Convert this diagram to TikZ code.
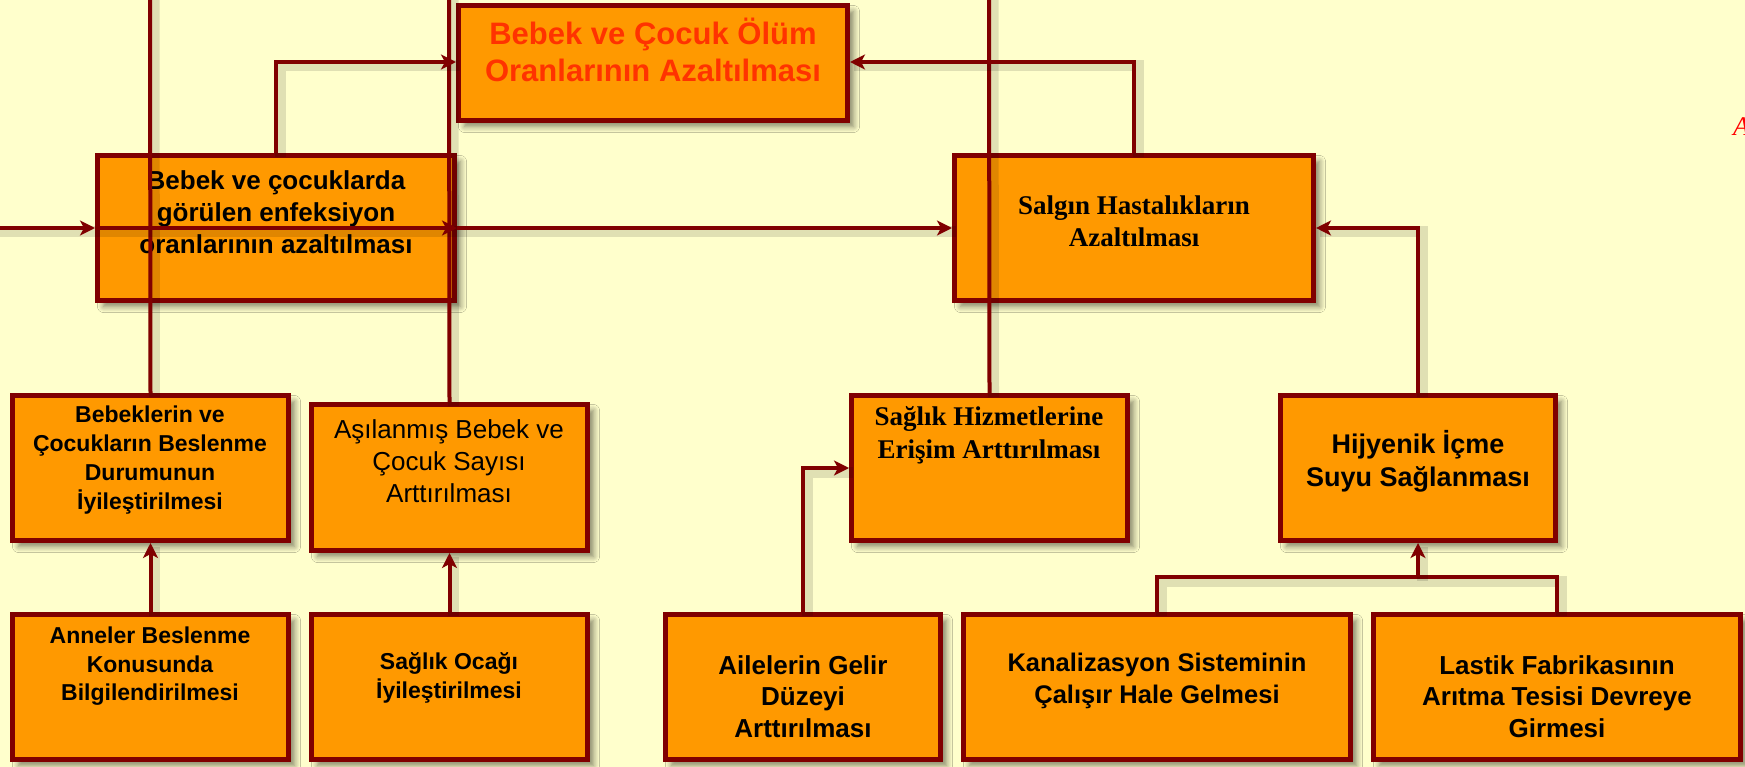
\documentclass[tikz,border=0pt]{standalone}
\usepackage{fontspec}
\setmainfont{Liberation Sans}
\newfontfamily\tms{Liberation Serif}
\usetikzlibrary{arrows.meta,shadows.blur}
\definecolor{bg}{HTML}{FFFFCC}
\definecolor{boxfill}{HTML}{FF9900}
\definecolor{brd}{HTML}{800000}
\definecolor{ttl}{HTML}{FF3300}
\begin{document}
\begin{tikzpicture}[x=1pt,y=-1pt,
  box/.style={draw=brd, line width=5pt, fill=boxfill, rectangle, inner sep=0pt, anchor=north west,
    blur shadow={shadow xshift=6pt, shadow yshift=-6pt, shadow blur steps=8, shadow opacity=50, shadow blur radius=6pt}},
  lbl/.style={align=center, inner sep=0pt, text=black},
  conn/.style={draw=brd, line width=4pt,
    preaction={draw=black, draw opacity=0.12, line width=11pt, -, transform canvas={shift={(4pt,-4pt)}}}},
  arr/.style={conn, -{Stealth[length=15pt,width=15pt,inset=4pt]}},
]
\useasboundingbox (0,0) rectangle (1745,767);
\fill[bg] (0,0) rectangle (1745,767);
\clip (0,0) rectangle (1745,767);

% boxes
\node[box, minimum width=389pt, minimum height=115pt] (top) at (456,3) {};
\node[box, minimum width=357pt, minimum height=145pt] (bebek) at (95,153) {};
\node[box, minimum width=359pt, minimum height=145pt] (salgin) at (952,153) {};
\node[box, minimum width=276pt, minimum height=145pt] (besl) at (10,393) {};
\node[box, minimum width=276pt, minimum height=146pt] (asi) at (309,402) {};
\node[box, minimum width=276pt, minimum height=145pt] (sh) at (849,393) {};
\node[box, minimum width=275pt, minimum height=145pt] (hij) at (1278,393) {};
\node[box, minimum width=276pt, minimum height=145pt] (anne) at (10,612) {};
\node[box, minimum width=276pt, minimum height=145pt] (ocak) at (309,612) {};
\node[box, minimum width=275pt, minimum height=145pt] (aile) at (663,612) {};
\node[box, minimum width=387pt, minimum height=145pt] (kanal) at (961,612) {};
\node[box, minimum width=367pt, minimum height=145pt] (lastik) at (1371,612) {};

% texts
\node[lbl, text=ttl, font=\bfseries\fontsize{31}{37}\selectfont] (topT) at (653,50) {Bebek ve Çocuk Ölüm\\Oranlarının Azaltılması};
\node[lbl, font=\bfseries\fontsize{26}{32}\selectfont] (bebekT) at (276,212) {Bebek ve çocuklarda\\görülen enfeksiyon\\oranlarının azaltılması};
\node[lbl, font=\tms\bfseries\fontsize{27}{32}\selectfont] (salginT) at (1134,221) {Salgın Hastalıkların\\Azaltılması};
\node[lbl, font=\bfseries\fontsize{23}{29}\selectfont] (beslT) at (150,460.5) {Bebeklerin ve\\Çocukların Beslenme\\Durumunun\\İyileştirilmesi};
\node[lbl, font=\fontsize{26}{32}\selectfont] (asiT) at (449,461) {Aşılanmış Bebek ve\\Çocuk Sayısı\\Arttırılması};
\node[lbl, font=\tms\bfseries\fontsize{27}{33}\selectfont] (shT) at (989,435.5) {Sağlık Hizmetlerine\\Erişim Arttırılması};
\node[lbl, font=\bfseries\fontsize{27}{33}\selectfont] (hijT) at (1418,461.5) {Hijyenik İçme\\Suyu Sağlanması};
\node[lbl, font=\bfseries\fontsize{23}{28.5}\selectfont] (anneT) at (150,666.5) {Anneler Beslenme\\Konusunda\\Bilgilendirilmesi};
\node[lbl, font=\bfseries\fontsize{23}{29}\selectfont] (ocakT) at (449,677.5) {Sağlık Ocağı\\İyileştirilmesi};
\node[lbl, font=\bfseries\fontsize{26}{31.5}\selectfont] (aileT) at (803,696.5) {Ailelerin Gelir\\Düzeyi\\Arttırılması};
\node[lbl, font=\bfseries\fontsize{25.5}{32}\selectfont] (kanalT) at (1157,681) {Kanalizasyon Sisteminin\\Çalışır Hale Gelmesi};
\node[lbl, font=\bfseries\fontsize{26}{31.5}\selectfont] (lastikT) at (1557,696.5) {Lastik Fabrikasının\\Arıtma Tesisi Devreye\\Girmesi};
\node[inner sep=0pt, anchor=base west, text=red, font=\tms\itshape\fontsize{27}{27}\selectfont] (cutA) at (1733,136) {A};

% free ends
\coordinate (t1) at (150,-10);
\coordinate (t2) at (449,-10);
\coordinate (t3) at (989,-10);
\coordinate (l1) at (-10,228);
\coordinate (j1) at (1418,577);

% connectors
\draw[conn] (t1) -- (besl.north);
\draw[conn] (t2) -- (asi.north);
\draw[conn] (t3) -- (sh.north);
\draw[arr] (bebek.north) |- (top.west |- 0,62);
\draw[arr] (salgin.north) |- (top.east |- 0,62);
\draw[arr] (hij.north) |- (salgin.east);
\draw[arr] (l1) -- (bebek.west);
\draw[arr] (bebek.west) -- (bebek.east);
\draw[arr] (bebek.east) -- (salgin.west);
\draw[arr] (anne.north) -- (besl.south);
\draw[arr] (ocak.north) -- (asi.south);
\draw[arr] (aile.north) |- (sh.west);
\draw[conn] (kanal.north) |- (j1) -| (lastik.north);
\draw[arr] (j1) -- (hij.south);
\end{tikzpicture}
\end{document}
